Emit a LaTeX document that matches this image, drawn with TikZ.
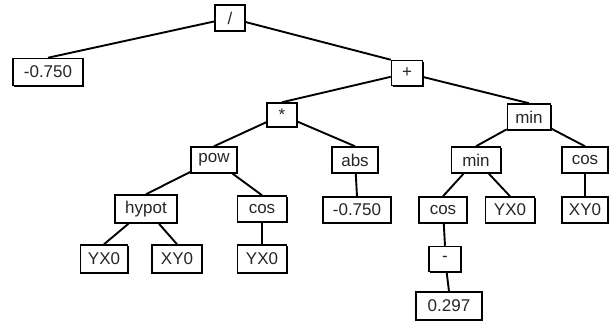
\documentclass[tikz,border=0pt]{standalone}
\usepackage{fontspec}
\setmainfont{Liberation Sans}
\usetikzlibrary{shadows}
\begin{document}
\begin{tikzpicture}[x=1pt,y=-1pt,
  bx/.style={draw=black, fill=white, line width=1.5pt, inner sep=0pt,
    minimum height=26pt, font=\fontsize{17}{17}\selectfont, text=black!85,
    drop shadow={shadow xshift=1.3pt, shadow yshift=-1.3pt, opacity=1, fill=black}},
  ed/.style={draw=black, line width=1.9pt}]
\useasboundingbox (0,0) rectangle (610,324);
\node[bx, minimum width=30pt] (root) at (230,18) {/};
\node[bx, minimum width=70pt, minimum height=27pt] (m1) at (48,72) {-0.750};
\node[bx, minimum width=31pt, minimum height=25pt] (plus) at (407,73) {+};
\node[bx, minimum width=30pt, minimum height=24pt] (times) at (282,115) {*};
\node[bx, minimum width=43pt] (min1) at (529,117) {min};
\node[bx, minimum width=46pt] (pow) at (214,160) {pow};
\node[bx, minimum width=46pt] (abs) at (355,160) {abs};
\node[bx, minimum width=49pt] (min2) at (476,160) {min};
\node[bx, minimum width=46pt] (cosA) at (585,160) {cos};
\node[bx, minimum width=62pt, minimum height=28pt] (hypot) at (146,209) {hypot};
\node[bx, minimum width=49pt] (cosB) at (262,209) {cos};
\node[bx, minimum width=68pt] (m2) at (357,210) {-0.750};
\node[bx, minimum width=48pt] (cosC) at (443,210) {cos};
\node[bx, minimum width=49pt] (yxA) at (510,210) {YX0};
\node[bx, minimum width=46pt] (xyA) at (585,210) {XY0};
\node[bx, minimum width=47pt, minimum height=28pt] (yxB) at (104,259) {YX0};
\node[bx, minimum width=50pt, minimum height=28pt] (xyB) at (177,259) {XY0};
\node[bx, minimum width=49pt, minimum height=28pt] (yxC) at (262,259) {YX0};
\node[bx, minimum width=32pt, minimum height=25pt] (minus) at (445,259) {-};
\node[bx, minimum width=66pt, minimum height=28pt] (num) at (449,306) {0.297};
\draw[ed] (root) -- (m1.north);
\draw[ed] (root) -- (plus.north west);
\draw[ed] (plus) -- (times.north);
\draw[ed] (plus) -- (min1.north);
\draw[ed] (times) -- (pow.north);
\draw[ed] (times) -- (abs.north);
\draw[ed] (min1) -- (min2.north);
\draw[ed] (min1) -- (cosA.north);
\draw[ed] (pow) -- (hypot.north);
\draw[ed] (pow) -- (cosB.north);
\draw[ed] (abs) -- (m2.north);
\draw[ed] (min2) -- (cosC.north);
\draw[ed] (min2) -- (yxA.north);
\draw[ed] (cosA) -- (xyA.north);
\draw[ed] (hypot) -- (yxB.north);
\draw[ed] (hypot) -- (xyB.north);
\draw[ed] (cosB) -- (yxC.north);
\draw[ed] (cosC) -- (minus.north);
\draw[ed] (minus) -- (num.north);
\end{tikzpicture}
\end{document}
